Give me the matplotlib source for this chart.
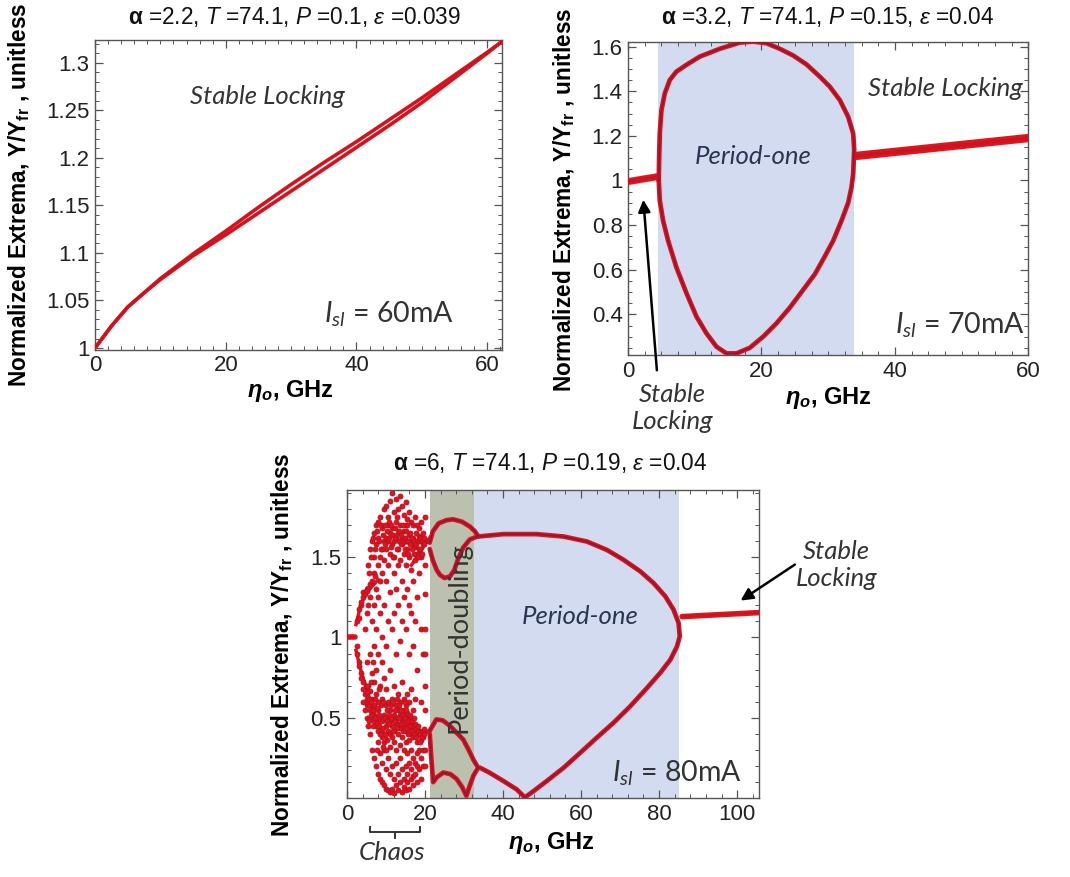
import numpy as np
import matplotlib
matplotlib.use("Agg")
import matplotlib.pyplot as plt
from matplotlib.ticker import MultipleLocator, FuncFormatter

plt.rcParams['font.family'] = ['Liberation Sans', 'DejaVu Sans']
plt.rcParams['mathtext.fontset'] = 'custom'
plt.rcParams['mathtext.rm'] = 'Liberation Sans'
plt.rcParams['mathtext.it'] = 'Liberation Sans:italic'
plt.rcParams['mathtext.bf'] = 'Liberation Sans:bold'
plt.rcParams['mathtext.bfit'] = 'Liberation Sans:italic:bold'
plt.rcParams['mathtext.cal'] = 'Lato:italic'

RED = '#e3121b'
DARK = '#7c1f3c'
BLUE = '#d2dbf0'
GRAY = '#bcc0ae'

# --- panel (a): alpha = 2.2, 60 mA, stable locking only ---
a_x = [0, 2.5, 5, 7.5, 10, 15, 20, 25, 30, 35, 40, 45, 50, 55, 60, 62.2]
a_upper = [1.0, 1.023, 1.043, 1.058, 1.073, 1.099, 1.123, 1.148, 1.172, 1.195, 1.217, 1.240, 1.263, 1.287, 1.311, 1.322]
a_lower = [1.0, 1.023, 1.043, 1.058, 1.072, 1.097, 1.119, 1.142, 1.165, 1.188, 1.211, 1.234, 1.258, 1.284, 1.310, 1.322]

# --- panel (b): alpha = 3.2, 70 mA ---
b_left_x = [0, 4.4]
b_left_y = [0.995, 1.017]
b_loop_x = [4.6, 4.65, 4.75, 5.0, 5.5, 6.25, 7.25, 8.75, 10.75, 13.75, 16.75, 18.75, 20.75, 22.75,
            24.75, 26.75, 28.75, 30.25, 31.75, 33.0, 33.75, 33.9, 33.75, 33.5, 33.0, 32.0, 30.75,
            29.5, 28.0, 26.25, 24.25, 22.25, 20.25, 18.25, 16.25, 14.75, 13.25, 11.75, 10.25, 8.75,
            7.25, 6.0, 5.25, 4.75, 4.6]
b_loop_y = [1.0, 1.09, 1.21, 1.315, 1.39, 1.45, 1.488, 1.518, 1.555, 1.59, 1.618, 1.622, 1.615, 1.59,
            1.56, 1.52, 1.465, 1.42, 1.36, 1.285, 1.21, 1.14, 1.03, 0.97, 0.90, 0.82, 0.73,
            0.66, 0.58, 0.51, 0.43, 0.36, 0.30, 0.25, 0.225, 0.225, 0.255, 0.315, 0.39, 0.495,
            0.61, 0.73, 0.82, 0.91, 1.0]
b_right_x = [34.2, 60]
b_right_y = [1.11, 1.19]

# --- panel (c): alpha = 6, 80 mA ---
c_left_x = [0, 2]
c_left_y = [1.0, 1.0]

# chaotic extrema, one column of y values per detuning step
chaos_x = [2.5, 3, 3.5, 4, 4.5, 5, 5.5, 6, 6.5, 7, 7.5, 8, 8.5, 9, 9.5, 10, 10.5, 11, 11.5, 12,
           12.5, 13, 13.5, 14, 14.5, 15, 15.5, 16, 16.5, 17, 17.5, 18, 18.5, 19, 19.5, 20]
chaos_y = [
    [0.9, 1.1, 0.95],
    [1.12, 0.85, 1.18, 0.82],
    [1.2, 0.78, 1.22, 0.75],
    [1.25, 0.72, 1.28, 0.68, 0.6],
    [1.27, 0.65, 1.05, 0.55],
    [1.3, 0.62, 1.15, 0.5, 0.85, 0.58],
    [1.31, 0.6, 1.45, 0.45, 0.7, 1.2],
    [1.33, 0.55, 1.55, 0.4, 0.9, 0.67, 1.25, 0.5],
    [1.35, 0.52, 1.6, 0.3, 1.1, 0.62, 0.78],
    [1.4, 0.48, 1.65, 0.25, 1.2, 0.58, 0.95, 0.72, 1.5],
    [1.3, 0.45, 1.7, 0.2, 0.8, 1.58, 0.65, 1.05],
    [1.45, 0.42, 1.72, 0.15, 0.55, 1.25, 0.6, 1.62, 0.35, 0.9],
    [1.5, 0.4, 1.75, 0.12, 1.35, 0.5, 0.7, 1.15, 0.28],
    [1.55, 0.38, 1.68, 0.1, 0.48, 1.4, 0.62, 0.22, 1.0, 0.85],
    [1.6, 0.35, 1.8, 0.08, 0.52, 1.48, 0.3, 1.2, 0.75],
    [1.62, 0.3, 1.82, 0.06, 0.45, 1.55, 0.58, 0.18, 1.35, 0.95, 0.68],
    [1.7, 0.5, 1.75, 0.05, 0.42, 1.45, 0.25, 1.1, 0.6, 1.6],
    [1.65, 0.48, 1.85, 0.04, 0.4, 1.52, 0.55, 0.32, 1.28, 0.15, 0.8],
    [1.68, 0.45, 1.9, 0.06, 0.5, 1.58, 0.38, 1.05, 0.62, 0.2],
    [1.6, 0.42, 1.78, 0.03, 0.52, 1.5, 0.35, 1.15, 0.7, 0.12, 1.4],
    [1.72, 0.5, 1.86, 0.08, 0.47, 1.62, 0.3, 0.9, 0.58, 0.22, 1.3],
    [1.65, 0.46, 1.8, 0.05, 0.55, 1.55, 0.4, 1.2, 0.65, 0.15, 1.45],
    [1.7, 0.52, 1.88, 0.1, 0.44, 1.48, 0.33, 0.98, 0.6, 0.25],
    [1.62, 0.48, 1.82, 0.04, 0.5, 1.58, 0.38, 1.35, 0.72, 0.18, 1.1],
    [1.66, 0.45, 1.76, 0.07, 0.55, 1.52, 0.3, 1.25, 0.62, 0.12],
    [1.6, 0.5, 1.84, 0.05, 0.42, 1.45, 0.35, 1.05, 0.58, 0.2, 1.7],
    [1.7, 0.47, 1.74, 0.1, 0.53, 1.55, 0.28, 1.3, 0.65, 0.15],
    [1.64, 0.44, 1.78, 0.06, 0.5, 1.5, 0.36, 0.9, 0.6, 0.22, 1.2],
    [1.6, 0.45, 1.72, 0.12, 0.4, 1.42, 0.3, 1.15, 0.68, 0.18],
    [1.58, 0.44, 1.7, 0.08, 0.38, 1.62, 0.25, 0.95, 0.55, 0.14, 1.35],
    [1.56, 0.42, 1.75, 0.15, 0.46, 1.48, 0.22, 1.1, 0.62],
    [1.6, 0.43, 1.7, 0.1, 0.35, 1.52, 0.28, 0.8, 0.2, 1.25],
    [1.63, 0.42, 1.68, 0.18, 0.4, 1.55, 0.3, 1.4],
    [1.6, 0.41, 1.72, 0.12, 0.36, 1.5, 0.6, 0.25, 1.05],
    [1.58, 0.42, 1.65, 0.2, 0.38, 1.62, 0.9, 0.3],
    [1.75, 1.6, 1.45, 1.27, 1.05, 0.9, 0.7, 0.55, 0.42, 0.3, 0.2],
]
# the crowded bands near 0.5 and 1.6 in between those steps
band_x = [5.25, 5.75, 6.25, 6.75, 7.25, 7.75, 8.25, 8.75, 9.25, 9.75, 10.25, 10.75, 11.25, 11.75,
          12.25, 12.75, 13.25, 13.75, 14.25, 14.75, 15.25, 15.75, 16.25, 16.75, 17.25, 17.75,
          18.25, 18.75, 19.25, 19.75]
band_y = [
    [0.7, 0.66, 1.29], [0.62, 0.58, 1.4, 0.48], [0.6, 0.52, 1.5, 0.72], [0.55, 0.45, 1.62, 0.85],
    [0.5, 0.62, 1.55, 1.38], [0.47, 0.56, 1.66, 0.3], [0.45, 0.52, 1.6, 0.68], [0.4, 0.58, 1.7, 1.55],
    [0.44, 0.6, 1.64, 0.32], [0.5, 0.4, 1.58, 1.7], [0.55, 0.36, 1.66, 0.48], [0.46, 0.52, 1.62, 1.72],
    [0.5, 0.58, 1.7, 1.56], [0.42, 0.6, 1.64, 1.5], [0.48, 0.55, 1.68, 1.62], [0.44, 0.62, 1.55, 1.75],
    [0.5, 0.58, 1.6, 1.66], [0.46, 0.55, 1.64, 1.58], [0.42, 0.52, 1.7, 1.6], [0.5, 0.6, 1.62, 1.55],
    [0.44, 0.55, 1.66, 1.6], [0.48, 0.4, 1.6, 1.52], [0.45, 0.52, 1.65, 1.58], [0.42, 0.48, 1.62, 1.55],
    [0.4, 0.5, 1.6, 1.52], [0.43, 0.38, 1.58, 1.65], [0.41, 0.45, 1.6, 1.5], [0.4, 0.35, 1.62, 1.55],
    [0.42, 0.38, 1.6, 1.52], [0.43, 0.4, 1.58, 1.62],
]
# branches that stay visible inside the chaotic window
br1_x = [2.3, 3.5, 5.0, 6.5, 8.0]
br1_y = [1.08, 1.2, 1.28, 1.32, 1.36]
br2_x = [2.3, 3.5, 5.0, 6.5, 8.0, 10.0]
br2_y = [0.92, 0.8, 0.68, 0.57, 0.47, 0.38]
br3_x = [15.0, 17.0, 19.0, 21.2]
br3_y = [0.52, 0.45, 0.4, 0.42]
br4_x = [16.5, 18.5, 20.0, 21.2]
br4_y = [1.45, 1.52, 1.58, 1.62]

# period-doubling loops
pd_top_x = [21.2, 22.0, 23.5, 25.5, 27.2, 29.5, 31.5, 32.8, 33.6]
pd_top_y = [1.59, 1.66, 1.71, 1.73, 1.735, 1.72, 1.69, 1.66, 1.63]
pd_top2_x = [21.2, 22.0, 23.0, 23.8, 25.0, 26.4, 27.5, 28.5, 29.8, 31.5, 33.6]
pd_top2_y = [1.55, 1.48, 1.42, 1.39, 1.37, 1.38, 1.42, 1.49, 1.56, 1.61, 1.63]
pd_bot_x = [21.2, 22.9, 24.5, 26.4, 28.0, 29.8, 31.2, 32.4, 33.6]
pd_bot_y = [0.42, 0.49, 0.485, 0.45, 0.41, 0.365, 0.30, 0.24, 0.19]
pd_bot2_x = [21.2, 21.7, 22.1, 23.0, 24.7, 26.5, 28.1, 29.5, 30.6, 31.5, 32.4, 33.6]
pd_bot2_y = [0.40, 0.22, 0.10, 0.13, 0.16, 0.15, 0.12, 0.07, 0.015, 0.08, 0.14, 0.19]

# period-one loop
p1_x = [33.6, 40.1, 48.6, 55.5, 61.5, 66.6, 70.9, 75.2, 78.6, 81.6, 83.7, 85.0, 85.3, 84.6, 82.9,
        80.3, 76.9, 72.6, 68.3, 64.0, 59.8, 55.5, 51.2, 47.8, 45.6, 43.5, 40.1, 36.6, 34.1]
p1_y = [1.628, 1.643, 1.643, 1.628, 1.597, 1.545, 1.483, 1.411, 1.338, 1.256, 1.173, 1.09, 1.007,
        0.945, 0.862, 0.78, 0.686, 0.572, 0.469, 0.376, 0.283, 0.189, 0.107, 0.044, 0.005, 0.055,
        0.107, 0.158, 0.19]
c_right_x = [85.9, 105.8]
c_right_y = [1.13, 1.155]


def fmt_g(v, pos):
    return '%g' % v


def frame(ax, xmaj, xmin, ymaj, ymin):
    ax.xaxis.set_major_locator(MultipleLocator(xmaj))
    ax.xaxis.set_minor_locator(MultipleLocator(xmin))
    ax.yaxis.set_major_locator(MultipleLocator(ymaj))
    ax.yaxis.set_minor_locator(MultipleLocator(ymin))
    ax.yaxis.set_major_formatter(FuncFormatter(fmt_g))
    ax.xaxis.set_major_formatter(FuncFormatter(fmt_g))
    ax.tick_params(which='both', direction='in', top=True, right=True, colors='#555555',
                   labelcolor='#222222', labelsize=16, pad=4)
    ax.tick_params(which='major', length=6, width=0.9)
    ax.tick_params(which='minor', length=3, width=0.7)
    for sp in ax.spines.values():
        sp.set_color('#555555')
        sp.set_linewidth(1.0)


def labels(ax, title, xl_pos, yl_pos, t_pos):
    ax.set_ylabel(r'Normalized Extrema, $\mathbf{Y/Y_{fr}}$ , unitless', fontsize=16.3,
                  fontweight='bold')
    ax.yaxis.set_label_coords(*yl_pos)
    ax.set_xlabel(r'$\mathbfit{\eta}_{\mathbfit{o}}$, GHz', fontsize=17, fontweight='bold')
    ax.xaxis.set_label_coords(*xl_pos)
    ax.text(t_pos[0], t_pos[1], title, transform=ax.transAxes, ha='center', va='center',
            fontsize=16.3, color='#111111')


def curve(ax, x, y, shaded=False, lw=3.4):
    ax.plot(x, y, color=RED, lw=lw, solid_capstyle='round', solid_joinstyle='round', zorder=3)
    ax.plot(x, y, color=DARK if shaded else '#a81a2a', lw=lw * 0.4, solid_capstyle='round',
            solid_joinstyle='round', zorder=4, alpha=0.9 if shaded else 0.5)


ital = dict(family=['Lato', 'DejaVu Sans'], style='italic', color='#333333')
lato = dict(family=['Lato', 'DejaVu Sans'], color='#333333')

fig = plt.figure(figsize=(10.7, 8.77), dpi=100)

# panel (a)
ax1 = fig.add_axes([0.0888, 0.601, 0.380, 0.3535])
curve(ax1, a_x, a_upper, lw=2.6)
curve(ax1, a_x, a_lower, lw=2.6)
ax1.set_xlim(0, 62.2)
ax1.set_ylim(0.998, 1.324)
frame(ax1, 20, 2, 0.05, 0.01)
labels(ax1, r'$\mathbf{\alpha}$ =2.2, $T$ =74.1, $P$ =0.1, $\varepsilon$ =0.039',
       (0.48, -0.09), (-0.155, 0.5), (0.49, 1.074))
ax1.text(26.3, 1.264, 'Stable Locking', fontsize=18.5, ha='center', va='center', **ital)
ax1.text(45, 1.035, r'$\mathcal{I}_{\mathcal{sl}}$ = 60mA', fontsize=20.5, ha='center',
         va='center', **lato)

# panel (b)
ax2 = fig.add_axes([0.587, 0.595, 0.374, 0.357])
ax2.axvspan(4.5, 33.9, color=BLUE, lw=0, zorder=0)
curve(ax2, b_left_x, b_left_y, lw=5)
curve(ax2, b_loop_x, b_loop_y, shaded=True)
curve(ax2, b_right_x, b_right_y, lw=6)
ax2.set_xlim(0, 60)
ax2.set_ylim(0.217, 1.62)
frame(ax2, 20, 2.5, 0.2, 0.05)
labels(ax2, r'$\mathbf{\alpha}$ =3.2, $T$ =74.1, $P$ =0.15, $\varepsilon$ =0.04',
       (0.5, -0.096), (-0.128, 0.495), (0.4975, 1.08))
ax2.text(18.75, 1.107, 'Period-one', fontsize=18.5, ha='center', va='center',
         family=['Lato', 'DejaVu Sans'], style='italic', color='#2a3550')
ax2.text(47.5, 1.413, 'Stable Locking', fontsize=18.5, ha='center', va='center', **ital)
ax2.text(49.8, 0.352, r'$\mathcal{I}_{\mathcal{sl}}$ = 70mA', fontsize=20.5, ha='center',
         va='center', **lato)
ax2.annotate('', xy=(2.25, 0.926), xytext=(4.35, 0.137), annotation_clip=False,
             arrowprops=dict(arrowstyle='-|>', color='black', lw=1.8, mutation_scale=18))
ax2.text(6.6, -0.02, 'Stable\nLocking', fontsize=18.5, ha='center', va='center',
         linespacing=1.2, **ital)

# panel (c)
ax3 = fig.add_axes([0.3243, 0.090, 0.385, 0.351])
ax3.axvspan(21.3, 32.6, color=GRAY, lw=0, zorder=0)
ax3.axvspan(32.6, 85.1, color=BLUE, lw=0, zorder=0)
curve(ax3, c_left_x, c_left_y, lw=4)
for xs, ys in [(br1_x, br1_y), (br2_x, br2_y), (br3_x, br3_y), (br4_x, br4_y)]:
    ax3.plot(xs, ys, color=RED, lw=2.5, zorder=3)
cx = np.concatenate([[x] * len(ys) for x, ys in zip(chaos_x + band_x, chaos_y + band_y)])
cy = np.concatenate(chaos_y + band_y)
ax3.plot(cx, cy, 'o', ms=3.6, mfc=RED, mec='#b01426', mew=0.6, zorder=3)
for xs, ys in [(pd_top_x, pd_top_y), (pd_top2_x, pd_top2_y), (pd_bot_x, pd_bot_y),
               (pd_bot2_x, pd_bot2_y), (p1_x, p1_y)]:
    curve(ax3, xs, ys, shaded=True)
curve(ax3, c_right_x, c_right_y, lw=4)
ax3.set_xlim(0, 105.6)
ax3.set_ylim(0.001, 1.916)
frame(ax3, 20, 4, 0.5, 0.1)
labels(ax3, r'$\mathbf{\alpha}$ =6, $T$ =74.1, $P$ =0.19, $\varepsilon$ =0.04',
       (0.497, -0.104), (-0.126, 0.497), (0.493, 1.088))
ax3.text(28.7, 1.0, 'Period-doubling', fontsize=19.5, rotation=90, ha='center', va='center',
         family=['Lato', 'DejaVu Sans'], color='#333333')
ax3.text(59.7, 1.13, 'Period-one', fontsize=18.5, ha='center', va='center',
         family=['Lato', 'DejaVu Sans'], style='italic', color='#2a3550')
ax3.text(84.6, 0.158, r'$\mathcal{I}_{\mathcal{sl}}$ = 80mA', fontsize=20.5, ha='center',
         va='center', **lato)
ax3.annotate('', xy=(100.3, 1.22), xytext=(115.4, 1.463), annotation_clip=False,
             arrowprops=dict(arrowstyle='-|>', color='black', lw=1.8, mutation_scale=18))
ax3.text(125.4, 1.45, 'Stable\nLocking', fontsize=18.5, ha='center', va='center',
         linespacing=1.2, **ital)
# bracket under the chaotic window
ax3.plot([5.9, 5.9, 18.7, 18.7], [-0.177, -0.208, -0.208, -0.177], color='#333333',
         lw=1.4, clip_on=False)
ax3.plot([12.3, 12.3], [-0.208, -0.245], color='#333333', lw=1.4, clip_on=False)
ax3.text(11.5, -0.338, 'Chaos', fontsize=18.5, ha='center', va='center', **ital)

fig.savefig('out.png', dpi=100)
